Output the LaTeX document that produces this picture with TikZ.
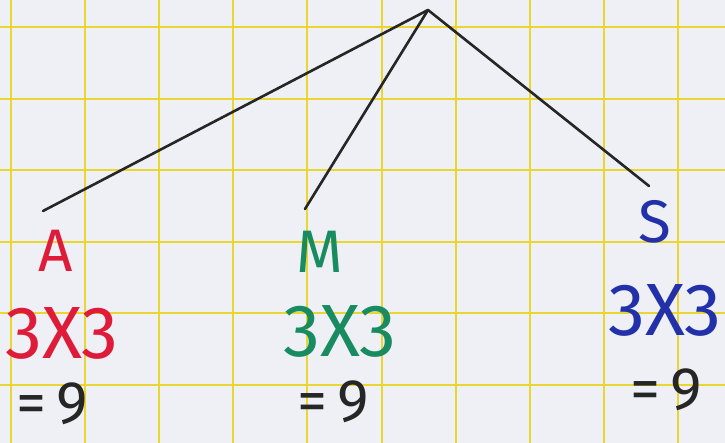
\documentclass[tikz,border=0pt]{standalone}
\usepackage{fontspec}
\setmainfont{Fira Sans}
\definecolor{paper}{RGB}{238,240,245}
\definecolor{gridyel}{RGB}{234,214,48}
\definecolor{penred}{RGB}{222,28,58}
\definecolor{pengreen}{RGB}{24,140,96}
\definecolor{penblue}{RGB}{34,48,170}
\tikzset{
  branch/.style={line width=2.6pt,line cap=round,black!85},
  letter/.style={inner sep=0pt,font=\fontsize{60}{62}\selectfont},
  product/.style={inner sep=0pt,font=\fontsize{74}{76}\selectfont},
  result/.style={inner sep=0pt,font=\fontsize{60}{62}\selectfont,black!85}
}
\begin{document}
\begin{tikzpicture}[x=1pt,y=-1pt]
  % paper and grid
  \fill[paper] (0,0) rectangle (725,443);
  \useasboundingbox (0,0) rectangle (725,443);
  \foreach \i in {0,...,9} {
    \draw[gridyel,line width=2pt] (11+74.1*\i,0)--(11+74.1*\i,443);
  }
  \foreach \j in {0,...,5} {
    \draw[gridyel,line width=2pt] (0,27+71.6*\j)--(725,27+71.6*\j);
  }
  % tree
  \coordinate (top) at (428,10);
  \coordinate (ea) at (43,211);
  \coordinate (em) at (305,209);
  \coordinate (es) at (649,186);
  \draw[branch] (top)--(ea);
  \draw[branch] (top)--(em);
  \draw[branch] (top)--(es);
  % left branch: A
  \node[letter,text=penred] (la) at (56,251) {A};
  \node[product,text=penred] (pa) at (62,333) {3X3};
  \node[result] (ra) at (52,404) {=\,9};
  % middle branch: M
  \node[letter,text=pengreen] (lm) at (320,252) {M};
  \node[product,text=pengreen] (pm) at (340,331) {3X3};
  \node[result] (rm) at (333,402) {=\,9};
  % right branch: S
  \node[letter,text=penblue] (ls) at (655,222) {S};
  \node[product,text=penblue] (ps) at (665,310) {3X3};
  \node[result] (rs) at (666,390) {=\,9};
\end{tikzpicture}
\end{document}
